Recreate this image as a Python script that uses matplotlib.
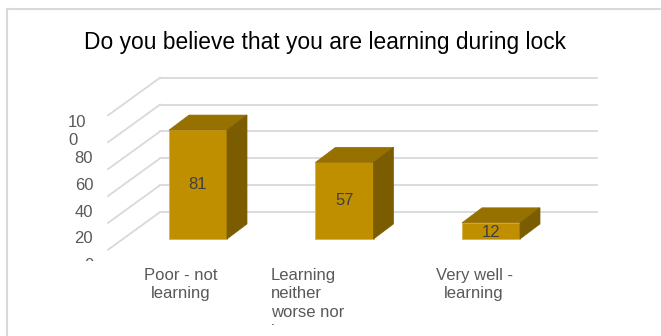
import matplotlib
matplotlib.use("Agg")
import matplotlib.pyplot as plt
from matplotlib.patches import Polygon, Rectangle
from matplotlib.lines import Line2D

plt.rcParams['font.family'] = ['Liberation Sans', 'DejaVu Sans']

# data
categories = ['Poor - not\nlearning',
              'Learning\nneither\nworse nor\nbetter',
              'Very well -\nlearning']
values = [81, 57, 12]
grid_values = [20, 40, 60, 80, 100, 120]
tick_values = [0, 20, 40, 60, 80, 100]
tick_labels = ['0', '20', '40', '60', '80', '10\n0']

# look of the fake 3d
front_col = '#bf8f00'
top_col = '#977100'
side_col = '#7b5c00'
grid_col = '#d9d9d9'
text_col = '#595959'
bar_w = 0.396
depth_x = 0.1365      # bar depth in x units
depth_y = 11.2        # bar depth in value units
wall_left = -0.259
wall_right = 2.724
floor_x = -0.614      # front end of the side wall lines
floor_y = 28.0

fig = plt.figure(figsize=(6.61, 3.36), dpi=100)
ax = fig.add_axes([0, 0, 1, 1])
ax.set_xlim(-1.3515, 3.1604)
ax.set_ylim(-72.17, 177.8)
ax.axis('off')

# chart frame
fig.add_artist(Line2D([7 / 661, 1], [1 - 9 / 336, 1 - 9 / 336], transform=fig.transFigure,
                      color=grid_col, lw=1.5))
fig.add_artist(Line2D([7 / 661, 7 / 661], [0, 1 - 9 / 336], transform=fig.transFigure,
                      color=grid_col, lw=1.5))

# back wall and side wall gridlines
for v in grid_values:
    ax.plot([wall_left, wall_right], [v, v], color=grid_col, lw=1.3, zorder=1)
    ax.plot([floor_x, wall_left], [v - floor_y, v], color=grid_col, lw=1.3, zorder=1)

# y labels, shown near the front of the side wall (the last one is cut off)
clip = Rectangle((-2, -16.5), 10, 300, transform=ax.transData, visible=False)
ax.add_patch(clip)
for v, lab in zip(tick_values, tick_labels):
    if '\n' in lab:
        t = ax.text(-0.888, v - 20, lab, ha='left', va='center', fontsize=12,
                    color=text_col, multialignment='left', linespacing=1.25, clip_on=True)
    else:
        t = ax.text(-0.715, v - 20, lab, ha='right', va='center', fontsize=12,
                    color=text_col, clip_on=True)
    t.set_clip_path(clip)

# bars
x = list(range(len(values)))
ax.bar(x, values, width=bar_w, color=front_col, edgecolor='#d8b44c', lw=0.6, zorder=3)
for i, v in enumerate(values):
    l, r = i - bar_w / 2, i + bar_w / 2
    top = Polygon([(l, v), (r, v), (r + depth_x, v + depth_y), (l + depth_x, v + depth_y)],
                  closed=True, facecolor=top_col, edgecolor=top_col, lw=0.5, zorder=3)
    side = Polygon([(r, 0), (r + depth_x, depth_y), (r + depth_x, v + depth_y), (r, v)],
                   closed=True, facecolor=side_col, edgecolor=side_col, lw=0.5, zorder=3)
    ax.add_patch(top)
    ax.add_patch(side)
    ax.text(i, v / 2 if v > 20 else v / 2 - 1.5, str(v), ha='center', va='center',
            fontsize=12, color='#404040', zorder=4)

# category labels (the middle one runs out of room and is cut off)
clip2 = Rectangle((-2, -64.0), 10, 300, transform=ax.transData, visible=False)
ax.add_patch(clip2)
for i, lab in enumerate(categories):
    if i == 1:
        t = ax.text(i - 0.502, -21.5, lab, ha='left', va='top', fontsize=12,
                    color=text_col, linespacing=1.3, clip_on=True)
    else:
        t = ax.text(i - 0.116, -21.5, lab, ha='center', va='top', fontsize=12,
                    color=text_col, linespacing=1.3, clip_on=True)
    t.set_clip_path(clip2)

ax.text(0.864, 146.5, 'Do you believe that you are learning during lock',
        ha='center', va='center', fontsize=16.4, color='black')

fig.savefig('out.png', dpi=100)
